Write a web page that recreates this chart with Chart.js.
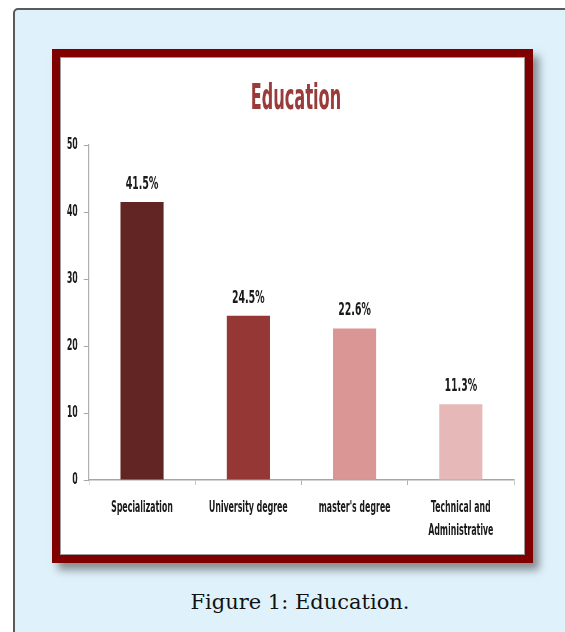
<html lang="en">
  <head>
    <meta charset="utf-8" />
    <title>Education</title>
    <script src="https://cdn.jsdelivr.net/npm/chart.js@4.4.1/dist/chart.umd.min.js"></script>
    <style>
* {
  margin: 0;
  padding: 0;
  box-sizing: border-box;
}
body {
  width: 565px;
  height: 632px;
  background: #ffffff;
  overflow: hidden;
  position: relative;
}
.panel {
  position: absolute;
  left: 13px;
  top: 8px;
  width: 620px;
  height: 700px;
  background: #dff1fb;
  border: 2px solid #5a5a5a;
  border-radius: 5px;
}
.frame {
  position: absolute;
  left: 52px;
  top: 49px;
  width: 481px;
  height: 514px;
  border: 8px solid #800000;
  background: #ffffff;
  box-shadow: 6px 7px 8px rgba(60, 60, 60, 0.55);
}
.inner {
  position: absolute;
  left: 0;
  top: 0;
  width: 465px;
  height: 498px;
  border: 1px solid #9a9a9a;
  overflow: hidden;
}
/* the picture is squeezed sideways, so the chart is drawn wider and scaled */
.chart-box {
  position: absolute;
  left: 0;
  top: 0;
  width: 798px;
  height: 496px;
  transform: scaleX(0.58);
  transform-origin: 0 0;
}
.caption {
  position: absolute;
  left: 0;
  top: 590px;
  width: 600px;
  text-align: center;
  font-family: "DejaVu Serif", serif;
  font-size: 21px;
  color: #111;
}
    </style>
  </head>
  <body>
    <div class="panel"></div>
    <div class="frame">
      <div class="inner">
        <div class="chart-box">
          <canvas id="chart"></canvas>
        </div>
      </div>
    </div>
    <div class="caption">Figure 1: Education.</div>

    <script>
      // chart data
      const chartTitle = "Education";
      const categories = ["Specialization", "University degree", "master's degree", ["Technical and", "Administrative"]];
      const values = [41.5, 24.5, 22.6, 11.3];
      const barColors = ["#632523", "#953735", "#d99694", "#e6b9b8"];
      const yTicks = [0, 10, 20, 30, 40, 50];

      const narrow = "'DejaVu Sans Condensed', 'DejaVu Sans', sans-serif";
      const axisGray = "#a6a6a6";

      // title, squeezed a bit more than the rest
      const titlePlugin = {
        id: "squeezedTitle",
        afterDraw(chart) {
          const ctx = chart.ctx;
          ctx.save();
          ctx.translate(405, 51);
          ctx.scale(0.86, 1);
          ctx.font = "bold 36px " + narrow;
          ctx.fillStyle = "#993b3b";
          ctx.textAlign = "center";
          ctx.textBaseline = "alphabetic";
          ctx.fillText(chartTitle, 0, 0);
          ctx.restore();
        }
      };

      // value labels above the bars
      const valueLabels = {
        id: "valueLabels",
        afterDatasetsDraw(chart) {
          const ctx = chart.ctx;
          const meta = chart.getDatasetMeta(0);
          ctx.save();
          ctx.font = "bold 18px " + narrow;
          ctx.fillStyle = "#1a1a1a";
          ctx.textAlign = "center";
          ctx.textBaseline = "middle";
          meta.data.forEach((bar, i) => {
            ctx.fillText(values[i].toFixed(1) + "%", bar.x, bar.y - 18);
          });
          ctx.restore();
        }
      };

      new Chart(document.getElementById("chart"), {
        type: "bar",
        plugins: [titlePlugin, valueLabels],
        data: {
          labels: categories,
          datasets: [
            {
              data: values,
              backgroundColor: barColors,
              borderWidth: 0,
              categoryPercentage: 1,
              barPercentage: 0.405
            }
          ]
        },
        options: {
          responsive: true,
          maintainAspectRatio: false,
          animation: false,
          layout: { padding: { top: 87, right: 17, left: 0, bottom: 0 } },
          plugins: {
            legend: { display: false },
            tooltip: { enabled: false },
            title: { display: false }
          },
          scales: {
            x: {
              grid: {
                display: true,
                drawOnChartArea: false,
                drawTicks: true,
                tickLength: 5,
                color: axisGray,
                offset: true
              },
              border: { display: true, color: axisGray, width: 1.5 },
              ticks: {
                color: "#1a1a1a",
                padding: 11,
                maxRotation: 0,
                autoSkip: false,
                font: { family: narrow, size: 15, weight: "bold", lineHeight: 1.55 }
              },
              afterFit: (s) => { s.height = 74; }
            },
            y: {
              min: 0,
              max: 50,
              afterBuildTicks: (s) => { s.ticks = yTicks.map((v) => ({ value: v })); },
              grid: {
                display: true,
                drawOnChartArea: false,
                drawTicks: true,
                tickLength: 9,
                color: axisGray
              },
              border: { display: true, color: axisGray, width: 1.5 },
              ticks: {
                color: "#1a1a1a",
                padding: 10,
                font: { family: narrow, size: 15, weight: "bold" }
              },
              afterFit: (s) => { s.width = 48; }
            }
          }
        }
      });
    </script>
  </body>
</html>
